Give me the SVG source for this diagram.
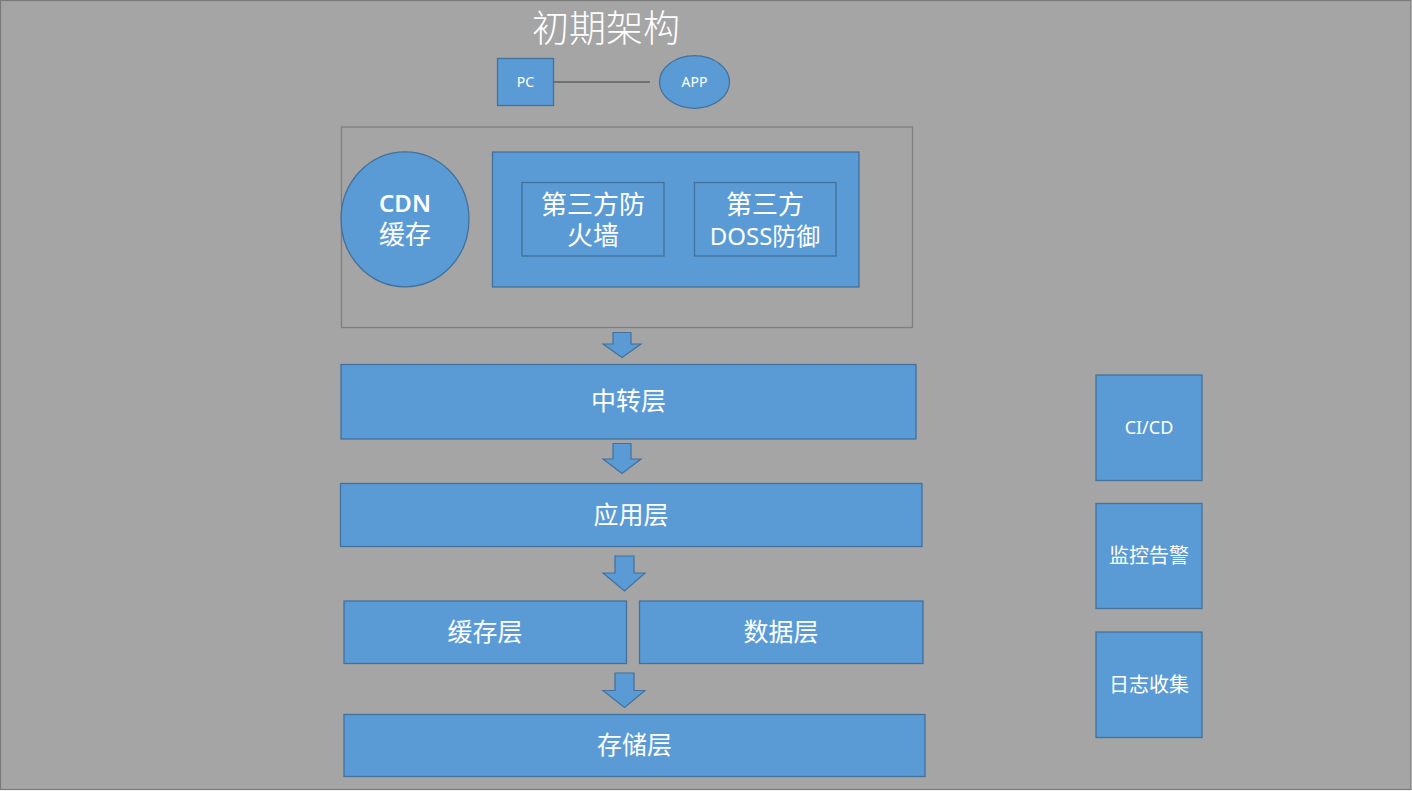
<svg xmlns="http://www.w3.org/2000/svg" width="1412" height="791" viewBox="0 0 1412 791">
<style>
.bx{fill:#5b9bd5;stroke:#41719c;stroke-width:1.3}
.ar{fill:#5b9bd5;stroke:#41719c;stroke-width:1.2;stroke-linejoin:miter}
.t{fill:#ffffff;font-family:"Noto Sans","Noto Sans CJK SC",sans-serif;text-anchor:middle}
.cj{font-size:25px}
.lt{font-size:14px}
.md{font-size:18px}
.mc{font-size:20px}
</style>
<rect x="0.5" y="0.5" width="1410.5" height="789" fill="#a5a5a5" stroke="#7a7a7a" stroke-width="1.2"/>
<text class="t" x="606" y="42" style="font-size:37px;font-family:'Noto Sans CJK SC',sans-serif;font-weight:300">初期架构</text>

<g id="connectors">
<line x1="553" y1="82" x2="650" y2="82" stroke="#404040" stroke-width="1.2"/>
<polygon class="ar" points="613,332.5 631,332.5 631,344 641,344 622,357.5 603,344 613,344"/>
<polygon class="ar" points="613,443.5 631,443.5 631,459 641,459 622,473.5 603,459 613,459"/>
<polygon class="ar" points="615,556 634,556 634,573 645,573 624.5,591 603,573 615,573"/>
<polygon class="ar" points="615,673 634,673 634,690.5 645,690.5 624.5,707.5 603,690.5 615,690.5"/>
</g>

<g id="pc"><rect class="bx" x="497.5" y="58.5" width="56" height="47"/><text class="t lt" x="525.5" y="87">PC</text></g>
<g id="app"><ellipse class="bx" cx="694.5" cy="82" rx="35" ry="26.3"/><text class="t lt" x="694.5" y="87">APP</text></g>

<g id="edge-container"><rect x="341.5" y="127" width="571" height="200.5" fill="none" stroke="#7f7f7f" stroke-width="1.3"/></g>
<g id="cdn"><ellipse class="bx" cx="405" cy="219.3" rx="64" ry="67.5"/>
<text class="t" x="405" y="212" style="font-size:24px"><tspan x="405" y="212" style="font-weight:600">CDN</tspan><tspan x="405" y="244" style="font-size:26px">缓存</tspan></text></g>
<g id="security"><rect class="bx" x="492.5" y="152" width="366.5" height="135"/></g>
<g id="firewall"><rect class="bx" x="522" y="182.5" width="142" height="73.5"/>
<text class="t" x="593" y="214" style="font-size:26px"><tspan x="593" y="214">第三方防</tspan><tspan x="593" y="245">火墙</tspan></text></g>
<g id="ddos"><rect class="bx" x="694.5" y="182.5" width="141.5" height="73.5"/>
<text class="t" x="765" y="214" style="font-size:26px"><tspan x="765" y="214">第三方</tspan><tspan x="765" y="245" style="font-size:24px">DOSS防御</tspan></text></g>

<g id="relay"><rect class="bx" x="341" y="364.5" width="575" height="74.5"/><text class="t cj" x="628.5" y="410">中转层</text></g>
<g id="app-layer"><rect class="bx" x="340.5" y="483.5" width="581.5" height="63"/><text class="t cj" x="631" y="524">应用层</text></g>
<g id="cache"><rect class="bx" x="344" y="601" width="282.5" height="62.5"/><text class="t cj" x="485" y="641">缓存层</text></g>
<g id="data"><rect class="bx" x="639.5" y="601" width="283.5" height="62.5"/><text class="t cj" x="781" y="641">数据层</text></g>
<g id="storage"><rect class="bx" x="344" y="714.5" width="581" height="62"/><text class="t cj" x="634.5" y="754">存储层</text></g>

<g id="cicd"><rect class="bx" x="1096" y="375" width="106" height="105.5"/><text class="t md" x="1149" y="434">CI/CD</text></g>
<g id="monitor"><rect class="bx" x="1096" y="503.5" width="106" height="105"/><text class="t mc" x="1149" y="563">监控告警</text></g>
<g id="logs"><rect class="bx" x="1096" y="632" width="106" height="105.5"/><text class="t mc" x="1149" y="692">日志收集</text></g>
</svg>
